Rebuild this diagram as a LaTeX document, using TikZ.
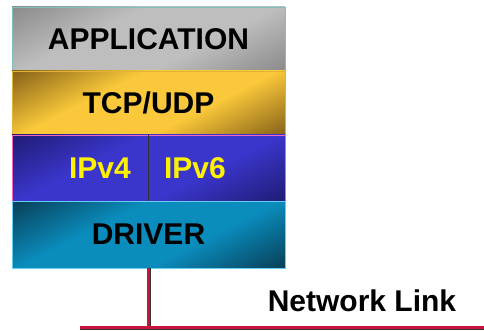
\documentclass[tikz,border=0pt]{standalone}
\usepackage{fontspec}
\setmainfont{Liberation Sans}
\usetikzlibrary{positioning}

\definecolor{appdark}{HTML}{868686}
\definecolor{applight}{HTML}{BEBEBE}
\definecolor{tcpdark}{HTML}{7A5814}
\definecolor{tcplight}{HTML}{FAC83A}
\definecolor{ipdark}{HTML}{1E1A6E}
\definecolor{iplight}{HTML}{3A36CC}
\definecolor{drvdark}{HTML}{083A50}
\definecolor{drvlight}{HTML}{0A8CBC}
\definecolor{linkred}{HTML}{C8143C}

% dark corners, bright middle band
\newcommand\layershading[3]{\pgfdeclareverticalshading{#1}{100bp}{color(0bp)=(#2); color(34bp)=(#2); color(45bp)=(#3); color(55bp)=(#3); color(66bp)=(#2); color(100bp)=(#2)}}
\layershading{appshade}{appdark}{applight}
\layershading{tcpshade}{tcpdark}{tcplight}
\layershading{ipshade}{ipdark}{iplight}
\layershading{drvshade}{drvdark}{drvlight}

\begin{document}
\begin{tikzpicture}[x=1pt,y=1pt,node distance=0pt,
  layer/.style={rectangle,line width=0.8pt,minimum width=273pt,minimum height=64pt,inner sep=0pt,outer sep=0pt,font=\fontsize{30}{33}\selectfont\bfseries,
    path picture={\shade[shading=#1,shading angle=27] ([shift={(-150,-150)}]path picture bounding box.center) rectangle +(300,300);}},
  ipname/.style={text=yellow,font=\fontsize{30}{33}\selectfont\bfseries},
  link/.style={linkred,line width=3pt}]
  \useasboundingbox (0,0) rectangle (484,-331);
  % protocol stack
  \node[layer=appshade,anchor=north west,draw=teal!50](app) at (12,-7){APPLICATION};
  \node[layer=tcpshade,below=of app,draw=tcplight!90!black](tcp){TCP/UDP};
  \node[layer=ipshade,below=of tcp,minimum height=66pt,draw=magenta!60](ip){};
  \node[ipname] (ipv4) at ([xshift=88pt]ip.west){IPv4};
  \node[ipname] (ipv6) at ([xshift=-90pt]ip.east){IPv6};
  \draw[line width=1.2pt,black!80](ip.north)--(ip.south);
  \node[layer=drvshade,below=of ip,minimum height=67pt,draw=cyan!60](driver){DRIVER};
  % network link
  \node[font=\fontsize{30}{33}\selectfont\bfseries](net) at (362,-301){Network Link};
  \coordinate (linkL) at (80,-327);
  \coordinate (linkR) at (484,-327);
  \draw[black!80,line width=3pt] ([xshift=1pt]driver.south) -- ([xshift=1pt]driver.south |- linkL);
  \draw[black!80,line width=3pt] ([yshift=-1pt]linkL) -- ([yshift=-1pt]linkR);
  \draw[link] (driver.south) -- (driver.south |- linkL);
  \draw[link] (linkL) -- (linkR);
\end{tikzpicture}
\end{document}
